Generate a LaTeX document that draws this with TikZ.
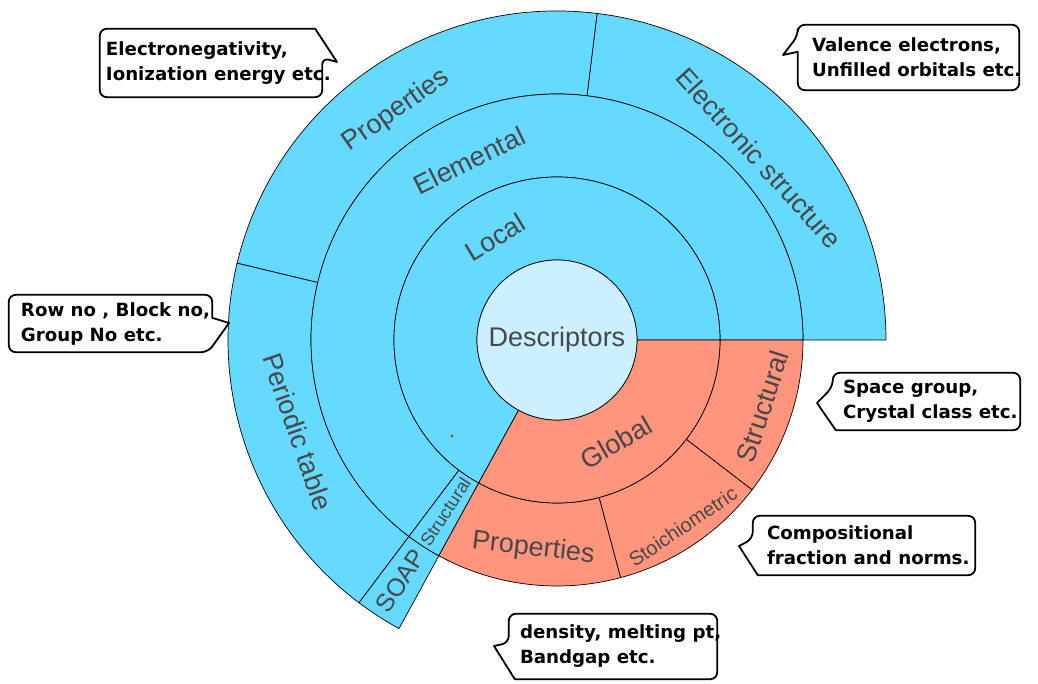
\documentclass[tikz,border=0pt]{standalone}
\usepackage{fontspec}
\setmainfont{Liberation Sans}
\newfontfamily\calloutfont{DejaVu Sans}
\usepackage{tikz}
\usetikzlibrary{calc}
\usepackage{xcolor}

\definecolor{ringblue}{RGB}{102,217,255}
\definecolor{ringsalmon}{RGB}{255,149,124}
\definecolor{coreblue}{RGB}{204,240,255}
\definecolor{labelgray}{RGB}{72,72,72}

% one piece of a ring: fill, inner radius, outer radius, start angle, end angle
\newcommand{\ringpart}[5]{%
  \filldraw[fill=#1, draw=black, line width=0.7pt] (#4:#2) arc[start angle=#4, end angle=#5, radius=#2]
    -- (#5:#3) arc[start angle=#5, end angle=#4, radius=#3] -- cycle;}

\begin{document}
\begin{tikzpicture}[x=1pt, y=1pt,
    lbl/.style={font=\fontsize{27}{30}\selectfont, text=labelgray, inner sep=0pt},
    smalllbl/.style={lbl, font=\fontsize{20}{24}\selectfont},
    calloutbox/.style={draw=none, inner sep=0pt},
    callouttext/.style={font=\calloutfont\bfseries\fontsize{18.2}{25}\selectfont, align=left, inner sep=0pt, anchor=west},
    calloutline/.style={draw=black, line width=1.8pt, fill=white, line join=round}
]
    \useasboundingbox (-557,-344) rectangle (481,340);

    % Outer ring
    \ringpart{ringblue}{246pt}{329pt}{0}{83}
    \ringpart{ringblue}{246pt}{329pt}{83}{166.5}
    \ringpart{ringblue}{246pt}{329pt}{166.5}{233}
    \ringpart{ringblue}{246pt}{329pt}{233}{241.3}

    % Middle ring
    \ringpart{ringblue}{163pt}{246pt}{0}{233}
    \ringpart{ringblue}{163pt}{246pt}{233}{241.3}
    \ringpart{ringsalmon}{163pt}{246pt}{241.3}{285}
    \ringpart{ringsalmon}{163pt}{246pt}{285}{322.5}
    \ringpart{ringsalmon}{163pt}{246pt}{322.5}{360}

    % Inner ring
    \ringpart{ringblue}{80pt}{163pt}{0}{241.3}
    \ringpart{ringsalmon}{80pt}{163pt}{241.3}{360}

    % Core
    \filldraw[fill=coreblue, draw=black, line width=0.7pt] (0,0) circle (80pt);
    \node[lbl] (descriptors) at (0,0) {Descriptors};

    % Ring labels
    \node[lbl, rotate=31] (local) at (121:120pt) {Local};
    \node[lbl, rotate=30] (global) at (300:118pt) {Global};
    \node[lbl, rotate=26] (elemental) at (116:200pt) {Elemental};
    \node[smalllbl, font=\fontsize{18}{20}\selectfont, rotate=57] (structsmall) at (237:205pt) {Structural};
    \node[lbl, rotate=-6.5] (propglobal) at (263.5:210pt) {Properties};
    \node[smalllbl, rotate=34] (stoich) at (304:225pt) {Stoichiometric};
    \node[lbl, rotate=72] (structglobal) at (342:216pt) {Structural};
    \node[lbl, rotate=35] (propelem) at (125:280pt) {Properties};
    \node[lbl, rotate=-48] (electronic) at (42:272pt) {Electronic structure};
    \node[lbl, rotate=-71] (periodic) at (199.5:275pt) {Periodic table};
    \node[lbl, font=\fontsize{25}{28}\selectfont, rotate=57] (soap) at (237:287pt) {SOAP};

    % stray dot
    \fill[red] (-105,-96) circle (1.3pt);

    % Callout: element properties
    \node[calloutbox, minimum width=222pt, minimum height=68pt] (enbox) at (-346,277) {};
    \coordinate (entip) at (-220,278);
    \draw[calloutline] ($(enbox.north east)+(-7,0)$) [rounded corners=7pt] -- (enbox.north west) -- (enbox.south west)
        -- (enbox.south east) -- ($(enbox.north east)+(0,-29)$) [sharp corners] -- (entip) -- cycle;
    \node[callouttext] (entext) at ($(enbox.west)+(6,0)$) {Electronegativity,\\Ionization energy etc.};

    % Callout: periodic table
    \node[calloutbox, minimum width=203pt, minimum height=57pt] (rowbox) at (-446.5,16.5) {};
    \coordinate (rowtip) at (-328,17);
    \draw[calloutline] ($(rowbox.north east)+(0,-23)$) [rounded corners=7pt] -- (rowbox.north east) -- (rowbox.north west)
        -- (rowbox.south west) -- ($(rowbox.south east)+(-4,0)$) [sharp corners] -- (rowtip) -- cycle;
    \node[callouttext] (rowtext) at ($(rowbox.west)+(12,0)$) {Row no , Block no,\\Group No etc.};

    % Callout: electronic structure
    \node[calloutbox, minimum width=221pt, minimum height=65pt] (valbox) at (351.5,282.5) {};
    \coordinate (valtip) at (226,285);
    \draw[calloutline] ($(valbox.north west)+(0,-27)$) [rounded corners=7pt] -- (valbox.south west) -- (valbox.south east)
        -- (valbox.north east) -- (valbox.north west) -- ($(valbox.north west)+(0,-11)$) [sharp corners] -- (valtip) -- cycle;
    \node[callouttext] (valtext) at ($(valbox.west)+(14,0)$) {Valence electrons,\\Unfilled orbitals etc.};

    % Callout: global structural
    \node[calloutbox, minimum width=187pt, minimum height=57pt] (spacebox) at (369.5,-61.5) {};
    \coordinate (spacetip) at (260,-63);
    \draw[calloutline] ($(spacebox.south west)+(3,0)$) [rounded corners=7pt] -- (spacebox.south east) -- (spacebox.north east)
        -- (spacebox.north west) -- ($(spacebox.north west)+(0,-14)$) [sharp corners] -- (spacetip) -- cycle;
    \node[callouttext] (spacetext) at ($(spacebox.west)+(10,0)$) {Space group,\\Crystal class etc.};

    % Callout: stoichiometric
    \node[calloutbox, minimum width=222pt, minimum height=59pt] (compbox) at (307,-205.5) {};
    \coordinate (comptip) at (182,-206);
    \draw[calloutline] ($(compbox.south west)+(5,0)$) [rounded corners=7pt] -- (compbox.south east) -- (compbox.north east)
        -- (compbox.north west) -- ($(compbox.north west)+(0,-23)$) [sharp corners] -- (comptip) -- cycle;
    \node[callouttext] (comptext) at ($(compbox.west)+(14,0)$) {Compositional\\fraction and norms.};

    % Callout: global properties
    \node[calloutbox, minimum width=208pt, minimum height=65pt] (densbox) at (56,-306.5) {};
    \coordinate (denstip) at (-63,-306);
    \draw[calloutline] ($(densbox.south west)+(6,0)$) [rounded corners=7pt] -- (densbox.south east) -- (densbox.north east)
        -- (densbox.north west) -- ($(densbox.north west)+(0,-29)$) [sharp corners] -- (denstip) -- cycle;
    \node[callouttext] (denstext) at ($(densbox.west)+(11,0)$) {density, melting pt,\\Bandgap etc.};
\end{tikzpicture}
\end{document}
